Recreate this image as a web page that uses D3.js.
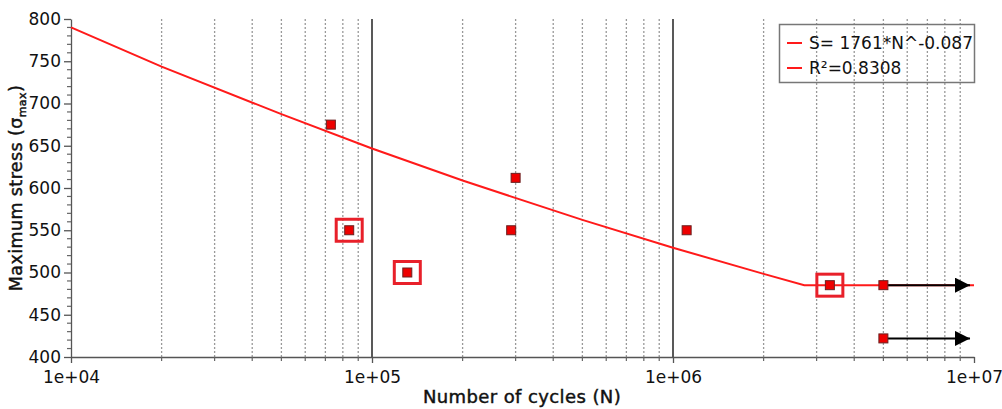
<!DOCTYPE html>
<html><head><meta charset="utf-8">
<script src="https://cdn.jsdelivr.net/npm/d3@7"></script>
<style>
body{margin:0;background:#fff;}
text{font-family:"DejaVu Sans",Verdana,sans-serif;}
.ttl{stroke:#111;stroke-width:0.45px;letter-spacing:0.4px;}
</style></head>
<body><svg id="c" width="1002" height="409"></svg>
<script>
// Data
const cyclesN = [7.3e4, 8.4e4, 1.31e5, 2.9e5, 3.0e5, 1.11e6, 3.32e6, 5.0e6, 5.0e6];
const stressS = [675, 550, 500, 550, 612, 550, 485, 485, 422];
const highlighted = [false, true, true, false, false, false, true, false, false];
const runoutN = [5.0e6, 5.0e6];
const runoutS = [485, 422];
const runoutEndN = [9.7e6, 9.7e6];
const fitN = [1e4, 2e4, 5e4, 1e5, 2e5, 5e5, 1e6, 2e6, 2.73e6, 1e7];
const fitS = [790, 743.7, 687.4, 646.8, 608.8, 562.3, 529.3, 498.4, 485, 485];
const xTickLabels = ["1e+04", "1e+05", "1e+06", "1e+07"];
const yTicks = [400, 450, 500, 550, 600, 650, 700, 750, 800];
const legendLabels = ["S= 1761*N^-0.087", "R²=0.8308"];

const svg = d3.select("#c");
const x = d3.scaleLog().domain([1e4, 1e7]).range([71, 974]);
const y = d3.scaleLinear().domain([400, 800]).range([357, 19]);

// minor gridlines (dotted)
const minorX = [];
for (let e = 4; e < 7; e++) for (let m = 2; m <= 9; m++) minorX.push(m * Math.pow(10, e));
svg.append("g").selectAll("line").data(minorX).join("line")
  .attr("x1", d => x(d)).attr("x2", d => x(d))
  .attr("y1", y(800)).attr("y2", y(400))
  .attr("stroke", "#999").attr("stroke-width", 1.3).attr("stroke-dasharray", "2,2");
// major gridlines
svg.append("g").selectAll("line").data([1e5, 1e6]).join("line")
  .attr("x1", d => x(d)).attr("x2", d => x(d))
  .attr("y1", y(800)).attr("y2", y(400))
  .attr("stroke", "#222").attr("stroke-width", 1.5);

// axes
const yAxis = d3.axisLeft(y).tickValues(yTicks).tickSize(7).tickPadding(3).tickSizeOuter(0);
const gy = svg.append("g").attr("transform", "translate(71,0)").call(yAxis);
gy.selectAll("text").attr("font-size", 17).attr("fill", "#111");
gy.select(".domain").attr("stroke", "#555").attr("stroke-width", 1.3);
gy.selectAll(".tick line").attr("stroke", "#555").attr("stroke-width", 1.3);
const minorY = d3.range(400, 801, 10).filter(v => v % 50 !== 0);
svg.append("g").selectAll("line").data(minorY).join("line")
  .attr("x1", 67).attr("x2", 71).attr("y1", d => y(d)).attr("y2", d => y(d))
  .attr("stroke", "#666").attr("stroke-width", 1.2);

const xAxis = d3.axisBottom(x).tickValues([1e4, 1e5, 1e6, 1e7])
  .tickFormat((d, i) => xTickLabels[i]).tickSize(6).tickPadding(8).tickSizeOuter(0);
const gx = svg.append("g").attr("transform", "translate(0,357)").call(xAxis);
gx.selectAll("text").attr("font-size", 17).attr("fill", "#111");
gx.select(".domain").attr("stroke", "#555").attr("stroke-width", 1.3);
gx.selectAll(".tick line").attr("stroke", "#555").attr("stroke-width", 1.3);
svg.append("g").selectAll("line").data(minorX).join("line")
  .attr("x1", d => x(d)).attr("x2", d => x(d)).attr("y1", 357).attr("y2", 361)
  .attr("stroke", "#666").attr("stroke-width", 1.2);

// axis titles
svg.append("text").attr("class", "ttl").attr("x", 522).attr("y", 403).attr("text-anchor", "middle")
  .attr("font-size", 18).attr("fill", "#111")
  .text("Number of cycles (N)");
const yt = svg.append("text").attr("class", "ttl").attr("transform", "translate(22,188) rotate(-90)")
  .attr("text-anchor", "middle").attr("font-size", 17.5).attr("fill", "#111");
yt.append("tspan").text("Maximum stress (σ");
yt.append("tspan").attr("font-size", 11).attr("dy", 4).text("max");
yt.append("tspan").attr("dy", -4).text(")");

// fit line
const fitData = fitN.map((n, i) => [n, fitS[i]]);
svg.append("path").datum(fitData)
  .attr("d", d3.line().x(d => x(d[0])).y(d => y(d[1])))
  .attr("fill", "none").attr("stroke", "#ff1a1a").attr("stroke-width", 2);

// run-out arrows
svg.append("defs").append("marker").attr("id", "arr")
  .attr("viewBox", "0 0 10 10").attr("refX", 10).attr("refY", 5)
  .attr("markerWidth", 8.5).attr("markerHeight", 7.5).attr("markerUnits", "strokeWidth")
  .attr("orient", "auto")
  .append("path").attr("d", "M0,0L10,5L0,10Z").attr("fill", "#000");
svg.append("g").selectAll("line").data(runoutN).join("line")
  .attr("x1", d => x(d)).attr("x2", (d, i) => x(runoutEndN[i]))
  .attr("y1", (d, i) => y(runoutS[i])).attr("y2", (d, i) => y(runoutS[i]))
  .attr("stroke", "#000").attr("stroke-width", 2).attr("marker-end", "url(#arr)");

// highlight boxes
const pts = cyclesN.map((n, i) => ({n, s: stressS[i], h: highlighted[i]}));
svg.append("g").selectAll("rect").data(pts.filter(p => p.h)).join("rect")
  .attr("x", d => x(d.n) - 13).attr("y", d => y(d.s) - 11)
  .attr("width", 26).attr("height", 22)
  .attr("fill", "none").attr("stroke", "#e8202a").attr("stroke-width", 3);

// markers
svg.append("g").selectAll("rect").data(pts).join("rect")
  .attr("x", d => x(d.n) - 4.5).attr("y", d => y(d.s) - 4.5)
  .attr("width", 9).attr("height", 9)
  .attr("fill", "#ee0000").attr("stroke", "#6a2020").attr("stroke-width", 1);

// legend
const lg = svg.append("g");
lg.append("rect").attr("x", 779.5).attr("y", 24.5).attr("width", 195).attr("height", 58)
  .attr("fill", "none").attr("stroke", "#777").attr("stroke-width", 1.5);
legendLabels.forEach((t, i) => {
  const yy = 43 + i * 25;
  lg.append("line").attr("x1", 787).attr("x2", 802).attr("y1", yy).attr("y2", yy)
    .attr("stroke", "#ff1a1a").attr("stroke-width", 2);
  lg.append("text").attr("x", 809).attr("y", yy + 6).attr("font-size", 17)
    .attr("fill", "#111").text(t);
});
</script></body></html>
